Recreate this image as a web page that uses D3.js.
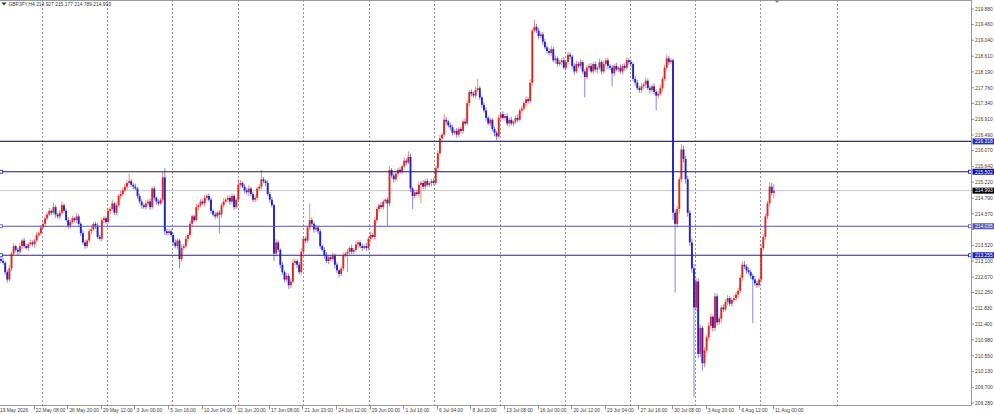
<!DOCTYPE html>
<html><head><meta charset="utf-8">
<script src="https://cdn.jsdelivr.net/npm/d3@7"></script>
<style>html,body{margin:0;padding:0;background:#fff;overflow:hidden}svg{display:block}</style>
</head><body>
<svg id="chart" width="994" height="414"></svg>
<script>
// ---------------- DATA ----------------
const symbolTitle = "GBPJPY,H4";
const lastBarOHLC = [214.927, 215.177, 214.789, 214.993];
const firstOpen = 213.15;
// H4 closes, one per bar
const closes = [
213.10,213.05,212.80,212.60,212.90,213.30,213.50,213.40,213.35,213.50,
213.65,213.50,213.45,213.55,213.60,213.55,213.65,213.80,213.85,214.00,
214.10,214.25,214.35,214.45,214.40,214.55,214.35,214.30,214.40,214.60,
214.45,214.20,214.05,214.15,214.25,214.20,214.30,214.10,213.85,213.60,
213.50,213.65,213.90,213.95,214.10,214.05,213.75,213.70,214.20,214.25,
214.15,214.45,214.50,214.65,214.40,214.60,214.85,214.90,215.00,215.10,
215.20,215.25,215.15,215.10,215.05,214.85,214.70,214.60,214.55,214.65,
214.70,214.55,215.05,214.80,214.70,214.65,214.75,215.35,213.90,213.85,
213.90,213.80,213.60,213.50,213.65,213.15,213.45,213.50,213.70,213.80,
214.10,214.30,214.20,214.55,214.60,214.70,214.65,214.80,214.85,214.75,
214.45,214.35,214.30,214.40,214.35,214.60,214.70,214.75,214.80,214.70,
214.85,214.55,214.75,215.15,215.20,215.10,215.00,214.95,215.05,214.90,
214.75,214.80,215.05,215.10,215.30,215.25,215.20,214.90,214.75,214.60,
213.30,213.60,213.40,213.00,212.80,212.60,212.70,212.45,212.55,213.05,
213.10,213.00,212.80,213.35,213.70,213.65,214.00,214.20,214.10,213.95,
214.00,213.90,213.50,213.40,213.25,213.10,213.20,213.15,213.25,213.00,
212.85,212.75,212.90,213.25,213.30,213.35,213.45,213.35,213.40,213.55,
213.60,213.50,213.45,213.50,213.45,213.70,213.80,213.75,214.20,214.50,
214.60,214.55,214.70,214.75,214.65,215.55,215.40,215.30,215.45,215.55,
215.50,215.65,215.80,215.75,215.90,215.05,214.85,214.95,214.90,215.15,
215.20,215.10,215.25,215.15,215.20,215.25,215.20,215.60,216.00,216.40,
216.50,216.90,216.85,216.75,216.70,216.55,216.60,216.50,216.65,216.60,
216.85,216.80,217.35,217.65,217.60,217.55,217.70,217.75,217.50,217.30,
217.15,216.95,216.80,216.90,216.65,216.55,216.45,216.95,217.05,216.95,
217.00,216.80,216.90,216.80,216.85,216.95,216.90,217.15,217.20,217.35,
217.45,217.40,217.90,219.30,219.40,219.30,219.15,219.20,219.00,218.85,
218.75,218.70,218.80,218.50,218.55,218.40,218.45,218.50,218.30,218.45,
218.65,218.60,218.35,218.20,218.40,218.35,218.45,218.20,218.05,218.30,
218.35,218.20,218.40,218.25,218.30,218.45,218.20,218.40,218.50,218.35,
218.30,218.15,218.35,218.25,218.30,218.20,218.35,218.30,218.50,218.45,
218.40,218.00,217.90,217.75,217.70,217.80,217.85,217.95,217.75,217.70,
217.80,217.65,217.55,217.60,217.75,218.00,218.30,218.55,218.45,218.50,
214.40,214.10,214.50,215.30,216.10,215.85,215.30,214.40,213.60,212.90,
211.85,212.55,210.60,211.30,210.35,210.70,211.05,211.35,211.60,211.30,
212.15,211.45,211.55,211.85,211.80,212.00,212.10,211.95,212.05,212.10,
212.20,212.30,212.65,213.00,212.95,212.85,212.80,212.70,212.60,212.50,
212.45,212.60,213.45,213.75,214.30,214.65,215.10,214.93,214.993
];
// upper wick above body top, in pips (0.01 JPY)
const wickUpPips = [
5,8,4,6,9,5,7,4,6,8, 5,7,6,4,8,5,6,9,5,7, 6,10,5,8,4,12,6,5,7,10, 4,6,8,5,7,4,9,6,5,8,
6,5,7,9,4,6,8,5,7,6, 5,8,6,10,4,7,5,9,6,8, 7,20,6,5,8,4,7,6,5,9, 6,8,5,7,4,6,5,15,25,6,
5,7,4,8,6,5,9,6,7,5, 8,6,5,9,4,7,6,8,5,7, 6,4,8,5,7,6,9,5,8,6, 7,5,6,15,8,4,7,6,9,5,
6,8,5,7,25,6,4,8,5,7, 5,9,6,4,8,5,7,6,8,10, 6,5,7,9,8,6,5,45,7,6, 8,5,6,4,7,9,5,6,8,5,
7,4,6,8,5,7,6,9,5,8, 6,5,7,4,8,6,9,5,7,6, 5,8,6,4,7,9,5,6,8,6, 7,5,8,6,15,9,5,7,6,8,
6,8,5,7,4,6,8,5,7,9, 6,15,8,5,7,6,4,8,5,7, 6,9,8,5,7,6,10,25,6,5, 7,8,5,6,4,7,5,9,6,8,
5,7,6,8,4,6,9,5,7,6, 8,5,9,6,20,8,7,5,6,8, 5,7,9,6,8,5,7,6,9,5, 8,6,5,7,9,6,8,5,6,7,
6,8,5,7,6,9,5,8,6,7, 5,7,6,8,5,9,6,7,8,5, 6,5,8,7,6,9,5,8,6,7, 5,8,6,7,9,6,8,10,7,6,
5,9,8,6,15,10,8,9,7,10, 12,10,8,9,6,8,7,10,8,6, 9,7,8,6,9,7,8,6,7,9, 6,8,7,9,10,6,8,7,5,9,
7,6,10,8,9,7,12,10,18
];
// lower wick below body bottom, in pips
const wickDownPips = [
6,5,8,8,5,7,4,6,8,5, 7,6,5,8,4,6,9,5,7,6, 5,8,6,4,7,5,9,6,8,5, 6,4,8,7,5,6,9,5,8,6,
7,5,6,8,4,9,6,5,7,8, 6,5,8,4,7,6,5,9,6,5, 8,6,5,7,4,8,6,9,5,7, 6,8,5,7,9,6,4,8,10,7,
6,5,8,6,9,25,7,5,6,8, 5,7,6,4,8,6,5,9,7,6, 8,5,7,6,50,8,6,5,7,9, 6,8,5,7,6,4,8,6,9,5,
7,6,8,5,7,6,9,5,8,6, 20,8,6,9,7,8,6,10,8,5, 7,9,6,8,5,7,6,8,5,9, 6,8,7,5,9,6,8,5,7,10,
8,9,6,7,5,50,8,6,7,5, 9,6,8,5,7,6,8,5,9,6, 7,5,8,6,60,8,7,9,6,8, 5,7,6,8,5,9,35,7,6,8,
50,6,8,5,7,9,6,5,8,6, 7,5,8,6,9,7,5,8,6,7, 8,6,5,9,7,6,8,5,7,9, 6,8,5,7,6,9,10,6,8,5,
7,6,9,5,8,6,7,5,8,6, 9,7,6,8,5,7,9,6,8,5, 7,6,8,5,9,7,6,8,5,7, 6,8,7,9,5,6,8,7,55,6,
8,5,7,6,9,5,8,6,7,9, 6,35,8,5,7,6,9,8,5,7, 8,6,9,5,7,8,6,9,5,8, 7,6,40,8,5,9,6,7,8,6,
20,185,10,12,9,10,12,11,10,12, 240,10,12,9,20,10,8,9,7,10, 8,9,7,10,8,6,9,7,8,6, 7,9,6,8,7,9,6,8,117,7,
8,6,9,7,10,8,9,7,14
];
const timeLabels = ["19 May 2026","22 May 08:00","26 May 20:00","29 May 12:00","3 Jun 00:00","5 Jun 16:00",
"10 Jun 04:00","12 Jun 20:00","17 Jun 08:00","21 Jun 23:00","24 Jun 12:00","29 Jun 00:00","1 Jul 16:00",
"6 Jul 04:00","8 Jul 20:00","13 Jul 08:00","16 Jul 00:00","20 Jul 12:00","23 Jul 04:00","27 Jul 16:00",
"30 Jul 08:00","3 Aug 20:00","6 Aug 12:00","11 Aug 00:00"];
const barsPerLabel = 16;
const weekGridBars = [19.3,50.5,81.6,112.8,143.8,175,206.2,237.4,268.6,299.5,330.5,361.4,398.1];
const priceTicks = [219.880,219.460,219.040,218.610,218.190,217.760,217.340,216.910,216.490,216.070,
215.640,215.220,214.790,214.370,213.950,213.520,213.100,212.670,212.250,211.830,211.400,210.980,
210.550,210.130,209.700,209.280];
const levelPrices = [216.318, 215.502, 214.035, 213.255];
const priceRange = [209.28, 219.88];

// ---------------- STYLE ----------------
const W = 994, H = 414, plotR = 971.5, plotB = 405.5;
const bullCol = "#e3261f", bearCol = "#2222cc";
const levelStyles = [
  {col:"#2a2ab4", marks:false},
  {col:"#12129a", marks:true},
  {col:"#5656b2", marks:true},
  {col:"#2020bc", marks:true}
];
const font = "'Liberation Sans', Arial, sans-serif";
const fs = 4.9;

const svg = d3.select("#chart");
const x = d3.scaleLinear().domain([0, closes.length - 1]).range([1, 773.8]);
const y = d3.scaleLinear().domain(priceRange).range([403, 9]);

svg.append("rect").attr("width", W).attr("height", H).attr("fill", "#fff");
svg.append("defs").append("clipPath").attr("id", "plot")
  .append("rect").attr("x", 0).attr("y", 0).attr("width", plotR).attr("height", plotB);

// grid
svg.append("g").selectAll("line").data(weekGridBars).join("line")
  .attr("x1", d => Math.round(x(d)) + 0.5).attr("x2", d => Math.round(x(d)) + 0.5)
  .attr("y1", 0).attr("y2", plotB)
  .attr("stroke", "#8a8a8a").attr("stroke-width", 0.9).attr("stroke-dasharray", "2,2");

const plot = svg.append("g").attr("clip-path", "url(#plot)");

// current price line (behind candles)
plot.append("line").attr("x1", 0).attr("x2", plotR)
  .attr("y1", y(lastBarOHLC[3])).attr("y2", y(lastBarOHLC[3]))
  .attr("stroke", "#c4c4c4").attr("stroke-width", 1);

// candles
const bars = closes.map((c, i) => {
  const o = i === 0 ? firstOpen : (i === closes.length - 1 ? lastBarOHLC[0] : closes[i - 1]);
  const top = Math.max(o, c), bot = Math.min(o, c);
  return {i, o, c, h: top + wickUpPips[i] / 100, l: bot - wickDownPips[i] / 100};
});
const cg = plot.append("g");
cg.selectAll("line.wick").data(bars).join("line").attr("class", "wick")
  .attr("x1", d => x(d.i)).attr("x2", d => x(d.i))
  .attr("y1", d => y(d.h)).attr("y2", d => y(d.l))
  .attr("stroke", d => d.c >= d.o ? bullCol : bearCol)
  .attr("stroke-opacity", 0.55).attr("stroke-width", 1);
cg.selectAll("rect.body").data(bars).join("rect").attr("class", "body")
  .attr("x", d => x(d.i) - 0.95).attr("width", 1.9)
  .attr("y", d => y(Math.max(d.o, d.c)))
  .attr("height", d => Math.max(0.9, Math.abs(y(d.o) - y(d.c))))
  .attr("fill", d => d.c >= d.o ? bullCol : bearCol);

// level lines
levelPrices.forEach((p, k) => {
  const st = levelStyles[k], yy = y(p);
  plot.append("line").attr("x1", 0).attr("x2", plotR).attr("y1", yy).attr("y2", yy)
    .attr("stroke", st.col).attr("stroke-width", 1.2);
  if (st.marks) {
    svg.append("rect").attr("x", -0.5).attr("y", yy - 1.5).attr("width", 3).attr("height", 3)
      .attr("fill", "#fff").attr("stroke", st.col).attr("stroke-width", 0.8);
    svg.append("rect").attr("x", plotR - 3).attr("y", yy - 1.5).attr("width", 3).attr("height", 3)
      .attr("fill", "#fff").attr("stroke", st.col).attr("stroke-width", 0.8);
  }
});

// frame
svg.append("line").attr("x1", 0).attr("x2", plotR).attr("y1", 0.5).attr("y2", 0.5).attr("stroke", "#9a9a9a");
svg.append("line").attr("x1", 0).attr("x2", plotR).attr("y1", plotB).attr("y2", plotB).attr("stroke", "#9a9a9a");
svg.append("line").attr("x1", plotR).attr("x2", plotR).attr("y1", 0).attr("y2", plotB).attr("stroke", "#9a9a9a");

// right price axis (labels fully hidden under level boxes are skipped)
const boxed = levelPrices.concat([lastBarOHLC[3]]);
const ax = svg.append("g").attr("font-family", font).attr("font-size", fs).attr("fill", "#3a3a3a");
priceTicks.forEach(p => {
  const yy = y(p);
  ax.append("line").attr("x1", plotR).attr("x2", plotR + 2.5).attr("y1", yy).attr("y2", yy).attr("stroke", "#666").attr("stroke-width", 0.7);
  const covered = boxed.some(b => Math.abs(y(b) - yy) < 4);
  if (!covered) ax.append("text").attr("x", plotR + 3.5).attr("y", yy + 1.8).text(p.toFixed(3));
});
// level labels
levelPrices.forEach((p, k) => {
  const yy = y(p);
  svg.append("rect").attr("x", plotR + 1).attr("y", yy - 3).attr("width", W - plotR - 1).attr("height", 6)
    .attr("fill", levelStyles[k].col);
  svg.append("text").attr("x", plotR + 3.5).attr("y", yy + 1.8).attr("font-family", font).attr("font-size", fs)
    .attr("fill", "#fff").text(p.toFixed(3));
});
// current price label
{
  const yy = y(lastBarOHLC[3]);
  svg.append("rect").attr("x", plotR + 1).attr("y", yy - 3).attr("width", W - plotR - 1).attr("height", 6).attr("fill", "#000");
  svg.append("text").attr("x", plotR + 3.5).attr("y", yy + 1.8).attr("font-family", font).attr("font-size", fs)
    .attr("fill", "#fff").text(lastBarOHLC[3].toFixed(3));
}

// time axis
const tg = svg.append("g").attr("font-family", font).attr("font-size", fs).attr("fill", "#3a3a3a");
timeLabels.forEach((t, k) => {
  const xx = x(k * barsPerLabel);
  if (k > 0) tg.append("line").attr("x1", Math.round(xx) - 0.5).attr("x2", Math.round(xx) - 0.5)
    .attr("y1", plotB).attr("y2", plotB + 4).attr("stroke", "#666").attr("stroke-width", 0.7);
  tg.append("text").attr("x", k === 0 ? 0 : xx + 1.2).attr("y", 412).text(t);
});

// header
svg.append("path").attr("d", "M1.5,2.5 L6.5,2.5 L4,5.5 Z").attr("fill", "#333");
svg.append("text").attr("x", 8.5).attr("y", 6.2).attr("font-family", font).attr("font-size", fs).attr("fill", "#333")
  .text(symbolTitle + "  " + lastBarOHLC.map(v => v.toFixed(3)).join(" "));
// chart-shift marker
svg.append("path").attr("d", "M774,0 L780,0 L777,3 Z").attr("fill", "#888");
</script>
</body></html>
